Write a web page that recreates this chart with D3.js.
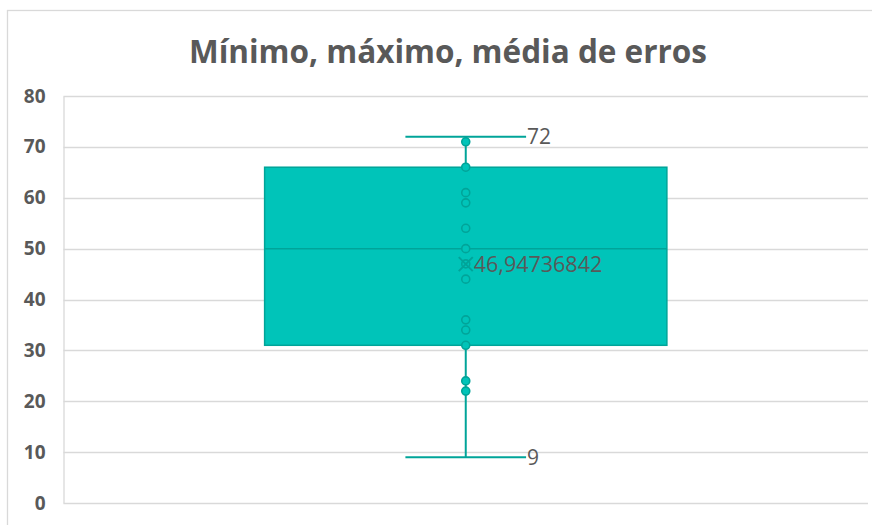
<!DOCTYPE html>
<html>
<head>
<meta charset="utf-8">
<script src="https://d3js.org/d3.v7.min.js"></script>
<style>
  body { margin: 0; background: #fff; }
  svg { display: block; font-family: "Open Sans", "Liberation Sans", sans-serif; }
</style>
</head>
<body>
<div id="chart"></div>
<script>
// values
var categories = ["erros"];
var points = [71, 66, 61, 59, 54, 50, 47, 44, 36, 34, 31, 24, 22];
var whiskerMin = [9];
var whiskerMax = [72];
var quartile1 = [31];
var median = [50];
var quartile3 = [66];
var mean = [46.94736842];
var yTicks = [0, 10, 20, 30, 40, 50, 60, 70, 80];

(function() {
    var w = 872, h = 525;
    var fill = "#00c4b9", stroke = "#00a499", textColor = "#595959";

    var svg = d3.select("#chart").append("svg").attr("width", w).attr("height", h);

    // chart border
    svg.append("rect").attr("x", 7.5).attr("y", 10.5).attr("width", w + 10).attr("height", h + 10)
        .attr("fill", "#fff").attr("stroke", "#d9d9d9").attr("stroke-width", 1.3);

    svg.append("text").attr("x", 448).attr("y", 63).attr("text-anchor", "middle")
        .attr("font-size", 31.5).attr("font-weight", "bold").attr("fill", textColor)
        .text("Mínimo, máximo, média de erros");

    var plotLeft = 63.5, plotRight = 868, plotTop = 96, plotBottom = 503;

    var y = d3.scaleLinear().domain([0, 80]).range([plotBottom, plotTop]);
    var x = d3.scaleBand().domain(categories).range([plotLeft, plotRight]).paddingInner(0.5).paddingOuter(0.25);

    // gridlines
    svg.append("g").selectAll("line").data(yTicks).enter().append("line")
        .attr("x1", plotLeft).attr("x2", plotRight)
        .attr("y1", function(d) { return Math.round(y(d)) + 0.5; })
        .attr("y2", function(d) { return Math.round(y(d)) + 0.5; })
        .attr("stroke", "#d9d9d9").attr("stroke-width", 1.3);

    var axis = svg.append("g").attr("transform", "translate(" + plotLeft + ",0)")
        .call(d3.axisLeft(y).tickValues(yTicks).tickSize(0).tickPadding(18));
    axis.select(".domain").attr("stroke", "#d9d9d9").attr("stroke-width", 1.3);
    axis.selectAll("text").attr("font-size", 19).attr("font-weight", "bold")
        .attr("fill", textColor).attr("font-family", "\"Open Sans\", sans-serif");

    var g = svg.append("g");
    categories.forEach(function(c, i) {
        var x0 = x(c), bw = x.bandwidth(), cx = x0 + bw / 2;
        var capW = bw * 0.3;

        // whiskers
        g.append("line").attr("x1", cx).attr("x2", cx).attr("y1", y(whiskerMax[i])).attr("y2", y(quartile3[i]))
            .attr("stroke", stroke).attr("stroke-width", 2);
        g.append("line").attr("x1", cx).attr("x2", cx).attr("y1", y(quartile1[i])).attr("y2", y(whiskerMin[i]))
            .attr("stroke", stroke).attr("stroke-width", 2);
        [whiskerMax[i], whiskerMin[i]].forEach(function(v) {
            g.append("line").attr("x1", cx - capW / 2).attr("x2", cx + capW / 2)
                .attr("y1", y(v)).attr("y2", y(v)).attr("stroke", stroke).attr("stroke-width", 2);
        });

        // box
        g.append("rect").attr("x", x0).attr("y", y(quartile3[i]))
            .attr("width", bw).attr("height", y(quartile1[i]) - y(quartile3[i]))
            .attr("fill", fill).attr("stroke", stroke).attr("stroke-width", 1.5);
        g.append("line").attr("x1", x0).attr("x2", x0 + bw)
            .attr("y1", y(median[i])).attr("y2", y(median[i]))
            .attr("stroke", stroke).attr("stroke-width", 1.5);

        // points
        g.selectAll("circle.pt").data(points).enter().append("circle")
            .attr("cx", cx).attr("cy", function(d) { return y(d); }).attr("r", 4)
            .attr("fill", fill).attr("stroke", stroke).attr("stroke-width", 1.6);

        // mean marker
        var my = y(mean[i]), s = 7;
        g.append("path").attr("d", "M" + (cx - s) + "," + (my - s) + "L" + (cx + s) + "," + (my + s) +
            "M" + (cx - s) + "," + (my + s) + "L" + (cx + s) + "," + (my - s))
            .attr("stroke", stroke).attr("stroke-width", 2).attr("fill", "none");

        // labels
        var fmt = function(v) { return String(v).replace(".", ","); };
        g.append("text").attr("x", cx + capW / 2 + 1).attr("y", y(whiskerMax[i])).attr("dy", "0.35em")
            .attr("font-size", 21).attr("fill", textColor).text(fmt(whiskerMax[i]));
        g.append("text").attr("x", cx + capW / 2 + 1).attr("y", y(whiskerMin[i])).attr("dy", "0.35em")
            .attr("font-size", 21).attr("fill", textColor).text(fmt(whiskerMin[i]));
        g.append("text").attr("x", cx + 8).attr("y", my).attr("dy", "0.35em")
            .attr("font-size", 21.5).attr("fill", textColor).text(fmt(mean[i]));
    });
})();
</script>
</body>
</html>
